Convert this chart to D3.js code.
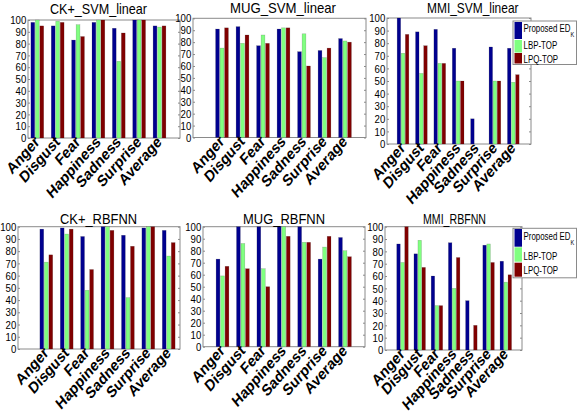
<!DOCTYPE html>
<html><head><meta charset="utf-8">
<script src="https://cdn.jsdelivr.net/npm/d3@7"></script>
<style>
html,body{margin:0;padding:0;background:#fff;}
svg{display:block;}
text{font-family:"Liberation Sans",Arial,sans-serif;fill:#000;}
</style></head>
<body>
<svg id="chart" width="577" height="415"></svg>
<script>
const categories = ["Anger","Disgust","Fear","Happiness","Sadness","Surprise","Average"];
const seriesNames = ["Proposed ED_K","LBP-TOP","LPQ-TOP"];
const seriesColors = ["#00008f","#80ff80","#800000"];
const yTicks = [0,10,20,30,40,50,60,70,80,90,100];
const panelTitles = ["CK+_SVM_linear","MUG_SVM_linear","MMI_SVM_linear","CK+_RBFNN","MUG_RBFNN","MMI_RBFNN"];

// values per panel: [Proposed, LBP-TOP, LPQ-TOP]
const ckSvmProposed = [98, 95, 83, 98, 93, 100, 95];
const ckSvmLbp      = [100, 99, 96, 100, 65, 100, 94];
const ckSvmLpq      = [95, 98, 86, 100, 89, 100, 95];

const mugSvmProposed = [91, 93, 77, 91, 72, 73, 83];
const mugSvmLbp      = [75, 79, 86, 92, 87, 67, 81];
const mugSvmLpq      = [92, 86, 79, 92, 60, 75, 80];

const mmiSvmProposed = [100, 89, 91, 76, 20, 77, 76];
const mmiSvmLbp      = [72, 56, 64, 50, 0, 50, 49];
const mmiSvmLpq      = [87, 78, 64, 50, 0, 50, 55];

const ckRbfProposed = [98, 99, 92, 100, 93, 99, 97];
const ckRbfLbp      = [71, 94, 48, 100, 42, 100, 76];
const ckRbfLpq      = [77, 98, 65, 97, 84, 100, 87];

const mugRbfProposed = [73, 100, 100, 100, 100, 73, 91];
const mugRbfLbp      = [59, 86, 65, 100, 87, 83, 80];
const mugRbfLpq      = [67, 65, 50, 92, 87, 92, 75];

const mmiRbfProposed = [86, 78, 60, 87, 40, 85, 72];
const mmiRbfLbp      = [71, 89, 36, 50, 0, 86, 55];
const mmiRbfLpq      = [100, 67, 36, 75, 20, 71, 61];

const panelData = [
  [ckSvmProposed, ckSvmLbp, ckSvmLpq],
  [mugSvmProposed, mugSvmLbp, mugSvmLpq],
  [mmiSvmProposed, mmiSvmLbp, mmiSvmLpq],
  [ckRbfProposed, ckRbfLbp, ckRbfLpq],
  [mugRbfProposed, mugRbfLbp, mugRbfLpq],
  [mmiRbfProposed, mmiRbfLbp, mmiRbfLpq]
];

// layout (positions only)
const layout = [
  {left:28, right:180, top:20, bottom:138, c0:37.3, c6:159.5, step:4.5, bw:3.8, tx:50, ty:13.5, tw:97, legend:null},
  {left:193, right:366, top:18.3, bottom:137.5, c0:222, c6:345, step:4.5, bw:3.8, tx:230, ty:13.3, tw:106, legend:null},
  {left:387, right:531, top:18, bottom:144, c0:403, c6:513.3, step:4.1, bw:3.5, tx:427, ty:13, tw:91.5,
    legend:{x:513, y:21, w:63.5, h:43.5, rows:[[22,39],[40,52.5],[53,63.5]], base:[32,49,62.5], kBase:37}},
  {left:18, right:180, top:226.7, bottom:349, c0:46.3, c6:168.7, step:4.5, bw:3.8, tx:60, ty:224, tw:77, legend:null},
  {left:203, right:365, top:226.7, bottom:346.7, c0:222.5, c6:345, step:4.5, bw:3.8, tx:243, ty:224, tw:82, legend:null},
  {left:385, right:522, top:226.7, bottom:350, c0:402.5, c6:505.8, step:4.0, bw:3.5, tx:423, ty:224, tw:63,
    legend:{x:513, y:228.3, w:63.5, h:49.5, rows:[[229,246.7],[247.3,261.7],[262.7,276.7]], base:[240,259.5,274], kBase:245}}
];

const svg = d3.select("#chart");

layout.forEach((L, pi) => {
  const g = svg.append("g");
  const x = d3.scalePoint().domain(categories).range([L.c0, L.c6]);
  const off = d3.scalePoint().domain(seriesNames).range([-L.step, L.step]);
  const y = d3.scaleLinear().domain([0, 100]).range([L.bottom, L.top]);

  // box
  g.append("rect").attr("x", L.left).attr("y", L.top)
    .attr("width", L.right - L.left).attr("height", L.bottom - L.top)
    .attr("fill", "#fff").attr("stroke", "#8a8a8a").attr("stroke-width", 1);

  // bars
  const vals = panelData[pi];
  seriesNames.forEach((s, si) => {
    g.append("g").selectAll("rect").data(categories).join("rect")
      .attr("x", (c) => x(c) + off(s) - L.bw / 2)
      .attr("width", L.bw)
      .attr("y", (c, i) => y(vals[si][i]))
      .attr("height", (c, i) => y(0) - y(vals[si][i]))
      .attr("fill", seriesColors[si])
      .attr("stroke", "#222").attr("stroke-opacity", 0.3).attr("stroke-width", 0.5);
  });

  // y axis (left) with inward ticks
  const ax = g.append("g").attr("transform", `translate(${L.left},0)`)
    .call(d3.axisLeft(y).tickValues(yTicks).tickSize(-2).tickPadding(2));
  ax.select(".domain").remove();
  ax.selectAll(".tick line").attr("stroke", "#8a8a8a");
  ax.selectAll(".tick text").attr("font-size", "11.5px").attr("fill", "#000")
    .attr("font-family", '"Liberation Sans",Arial,sans-serif')
    .attr("transform", "scale(0.84,1)");

  // right inward ticks
  const axr = g.append("g").attr("transform", `translate(${L.right},0)`)
    .call(d3.axisRight(y).tickValues(yTicks).tickSize(-2).tickFormat(""));
  axr.select(".domain").remove();
  axr.selectAll(".tick line").attr("stroke", "#8a8a8a");

  // category labels
  g.append("g").selectAll("text").data(categories).join("text")
    .attr("transform", (c) => `translate(${x(c) + 3},${L.bottom + 5}) scale(0.85,1) rotate(-44)`)
    .attr("text-anchor", "end")
    .attr("font-size", "16px").attr("font-weight", "bold")
    .text((c) => c);

  // title
  g.append("text").attr("x", L.tx).attr("y", L.ty)
    .attr("font-size", "15px")
    .attr("textLength", L.tw).attr("lengthAdjust", "spacingAndGlyphs")
    .text(panelTitles[pi]);

  // legend
  if (L.legend) {
    const lg = L.legend;
    const leg = svg.append("g");
    leg.append("rect").attr("x", lg.x).attr("y", lg.y).attr("width", lg.w).attr("height", lg.h)
      .attr("fill", "#fff").attr("stroke", "#8a8a8a").attr("stroke-width", 1);
    seriesNames.forEach((s, si) => {
      leg.append("rect").attr("x", lg.x + 1.5).attr("y", lg.rows[si][0])
        .attr("width", 7.5).attr("height", lg.rows[si][1] - lg.rows[si][0])
        .attr("fill", seriesColors[si]);
    });
    const lbl = (txt, xx, yy, fs, sx) => leg.append("text")
      .attr("transform", `translate(${xx},${yy}) scale(${sx},1)`)
      .attr("font-size", fs + "px").text(txt);
    lbl("Proposed ED", lg.x + 10.5, lg.base[0], 11, 0.72);
    lbl("K", lg.x + 57.5, lg.kBase, 7, 0.8);
    lbl("LBP-TOP", lg.x + 10.5, lg.base[1], 11, 0.72);
    lbl("LPQ-TOP", lg.x + 10.5, lg.base[2], 11, 0.72);
  }
});
</script>
</body></html>
